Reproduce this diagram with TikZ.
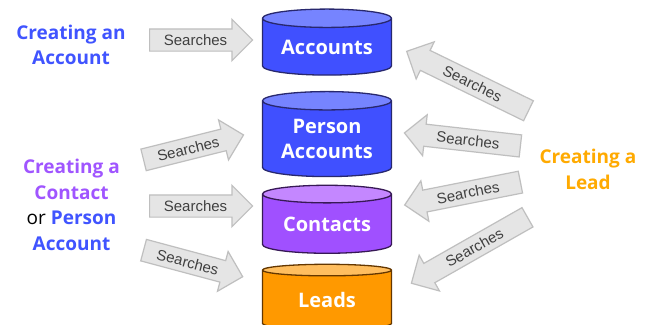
\documentclass[tikz,border=0pt]{standalone}
\usepackage{fontspec}
\usepackage{xcolor}
\usepackage{tikz}
\usetikzlibrary{shapes.geometric,shapes.arrows}
\newfontfamily\labelfont{Open Sans}
\newfontfamily\arrowfont{Liberation Sans}
\definecolor{acctblue}{RGB}{64,80,255}
\definecolor{acctblueend}{RGB}{118,132,255}
\definecolor{acctedge}{RGB}{40,40,110}
\definecolor{contpurple}{RGB}{160,80,255}
\definecolor{contpurpleend}{RGB}{196,135,255}
\definecolor{contedge}{RGB}{55,25,85}
\definecolor{leadorange}{RGB}{255,153,0}
\definecolor{leadorangeend}{RGB}{255,190,95}
\definecolor{leadedge}{RGB}{100,55,0}
\definecolor{txtblue}{RGB}{64,84,255}
\definecolor{txtpurple}{RGB}{160,85,255}
\definecolor{txtorange}{RGB}{255,170,0}

\begin{document}
\begin{tikzpicture}[
    x=1pt, y=-1pt,
    store/.style = {
        cylinder,
        shape border rotate=90,
        aspect=0.2,
        cylinder uses custom fill,
        line width=1.3pt,
        minimum width=129pt,
        align=center,
        text=white,
        font=\labelfont\bfseries\fontsize{20}{25}\selectfont,
        inner sep=0pt
    },
    accountsdb/.style = {store, draw=acctedge, cylinder body fill=acctblue, cylinder end fill=acctblueend},
    contactsdb/.style = {store, draw=contedge, cylinder body fill=contpurple, cylinder end fill=contpurpleend},
    leadsdb/.style    = {store, draw=leadedge, cylinder body fill=leadorange, cylinder end fill=leadorangeend},
    search/.style = {
        single arrow,
        draw=black!25,
        fill=black!10,
        line width=1.2pt,
        minimum width=40pt,
        single arrow head extend=9.5pt,
        single arrow tip angle=90,
        inner xsep=0pt,
        inner ysep=5pt,
        text height=11pt,
        text depth=0pt,
        anchor=tail,
        text=black!75,
        font=\arrowfont\fontsize{15}{15}\selectfont
    },
    searchback/.style = {search, shape border rotate=180},
    creator/.style = {align=center, font=\labelfont\bfseries\fontsize{19}{25.5}\selectfont}
]

\fill[white] (0,0) rectangle (653,324);
\useasboundingbox (0,0) rectangle (653,324);

% the four stores
\node[accountsdb, minimum height=66pt] (accounts)  at (327,47)  {Accounts};
\node[accountsdb, minimum height=85pt] (personacc) at (327,139) {Person\\Accounts};
\node[contactsdb, minimum height=68pt] (contacts)  at (327,224) {Contacts};
\node[leadsdb,    minimum height=65pt] (leads)     at (327,300) {Leads};

% who creates what
\node[creator, text=txtblue]   (newaccount) at (71,45)    {Creating an\\Account};
\node[creator, text=txtpurple] (newcontact) at (71.5,205) {Creating a\\Contact\\{\color{black}\mdseries or} {\color{txtblue}Person}\\{\color{txtblue}Account}};
\node[creator, text=txtorange] (newlead)    at (588,169.5) {Creating a\\Lead};

% searches from the left
\node[search, minimum height=103pt]                (srchaccount) at (149,40)  {Searches};
\node[search, minimum height=103pt, rotate=14]     (srchperson)  at (143,160) {Searches};
\node[search, minimum height=103pt]                (srchcontact) at (149,206) {Searches};
\node[search, minimum height=102.6pt, rotate=-15]  (srchlead)    at (143,250) {Searches};

% searches from the right
\node[searchback, minimum height=135.5pt, rotate=-26] (leadaccount) at (529,111) {Searches};
\node[searchback, minimum height=116.7pt, rotate=-6.4] (leadperson) at (521,146) {Searches};
\node[searchback, minimum height=118pt, rotate=11.2]  (leadcontact) at (521,182) {Searches};
\node[searchback, minimum height=133.5pt, rotate=29.6] (leadlead)   at (528,217) {Searches};

\end{tikzpicture}
\end{document}
